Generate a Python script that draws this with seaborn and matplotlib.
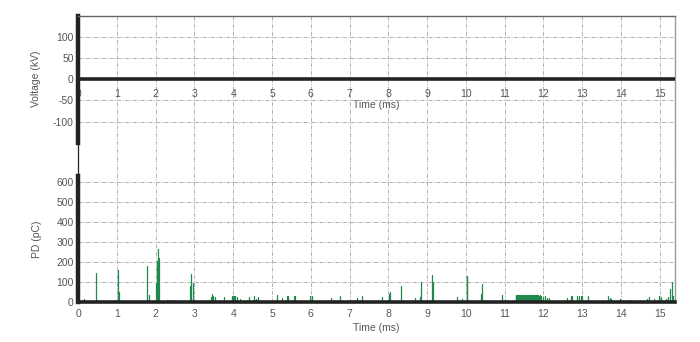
import numpy as np
import pandas as pd
import matplotlib
matplotlib.use("Agg")
import matplotlib.pyplot as plt
import seaborn as sns

# ---------------- data ----------------
volt_time = [0.0, 2.0, 4.0, 6.0, 8.0, 10.0, 12.0, 14.0, 15.39]
volt_kv = [0, 0, 0, 0, 0, 0, 0, 0, 0]

pd_time = [0.15, 0.46, 0.48, 1.03, 1.05, 1.77, 1.83, 2.01, 2.03, 2.05, 2.07, 2.09,
           2.30, 2.38, 2.89, 2.91, 2.97, 3.43, 3.45, 3.47, 3.53, 3.76, 3.97, 3.99,
           4.01, 4.03, 4.05, 4.10, 4.18, 4.42, 4.54, 4.58, 4.64, 5.12, 5.27, 5.38,
           5.42, 5.56, 5.59, 5.99, 6.02, 6.52, 6.75, 7.18, 7.33, 7.84, 8.02, 8.04,
           8.32, 8.70, 8.82, 8.84, 9.13, 9.15, 9.76, 9.91, 10.02, 10.04, 10.38, 10.42,
           10.94,
           11.28, 11.30, 11.32, 11.34, 11.36, 11.38, 11.40, 11.42, 11.44, 11.46, 11.48,
           11.50, 11.52, 11.54, 11.56, 11.58, 11.60, 11.62, 11.64, 11.66, 11.68, 11.70,
           11.72, 11.74, 11.76, 11.78, 11.80, 11.82, 11.84, 11.86, 11.88, 11.90, 11.92,
           11.94,
           11.98, 12.03, 12.08, 12.15, 12.61, 12.70, 12.74, 12.87, 12.91, 12.96, 12.99,
           13.16, 13.67, 13.71, 13.75, 13.97, 14.23, 14.66, 14.72, 14.86, 14.98, 15.02,
           15.15, 15.21, 15.25, 15.30, 15.33]
pd_pc = [17, 147, 10, 158, 50, 180, 33, 97, 205, 172, 263, 222,
         10, 12, 80, 138, 97, 25, 40, 30, 25, 25, 30, 32,
         30, 28, 30, 25, 15, 25, 30, 15, 25, 35, 20, 30,
         30, 30, 28, 30, 28, 22, 30, 20, 30, 25, 40, 52,
         80, 20, 25, 100, 135, 100, 25, 15, 128, 118, 40, 92,
         35,
         34, 36, 35, 37, 33, 36, 35, 34, 36, 28, 35,
         37, 36, 35, 34, 36, 35, 37, 36, 34, 35, 36,
         35, 37, 36, 34, 35, 33, 36, 35, 30, 34, 32,
         30,
         25, 28, 18, 20, 20, 30, 30, 30, 30, 28, 30,
         30, 30, 20, 15, 15, 10, 15, 25, 15, 30, 25,
         15, 25, 65, 100, 30]

volt_ticks = [-100, -50, 0, 50, 100]
pd_ticks = [0, 100, 200, 300, 400, 500, 600]
time_ticks = list(range(0, 16))

# ---------------- build tables ----------------
volt_df = pd.DataFrame({"t": volt_time, "v": volt_kv})
rows = []
for i, (t, h) in enumerate(zip(pd_time, pd_pc)):
    rows.append({"t": t, "pd": 0, "id": i})
    rows.append({"t": t, "pd": h, "id": i})
pd_df = pd.DataFrame(rows)

# ---------------- style ----------------
sns.set_style("white")
plt.rcParams["font.family"] = ["Liberation Sans", "DejaVu Sans"]
plt.rcParams["axes.unicode_minus"] = False
txt = "#555555"
grid_kw = dict(color="#b0b0b0", linewidth=0.7, linestyle=(0, (4, 1.5, 1, 1.5)))
fs = 7.5

fig = plt.figure(figsize=(7.0, 3.42), dpi=100)
L, R = 78 / 700, 675 / 700
ax1 = fig.add_axes([L, 1 - 160 / 342, R - L, (160 - 16) / 342])
ax2 = fig.add_axes([L, 1 - 302 / 342, R - L, (302 - 160) / 342])

# ---------------- voltage ----------------
sns.lineplot(data=volt_df, x="t", y="v", ax=ax1, color="#222222", linewidth=2.6,
             estimator=None, zorder=5)
ax1.set_xlim(0, 15.39)
ax1.set_ylim(-191, 150)
ax1.set_yticks(volt_ticks)
ax1.set_xticks(time_ticks)
ax1.grid(True, **grid_kw)
ax1.spines["bottom"].set_position(("data", 0))
ax1.spines["bottom"].set_color("none")
ax1.spines["top"].set_color("#666666")
ax1.spines["top"].set_linewidth(1.0)
ax1.spines["right"].set_color("#999999")
ax1.spines["right"].set_linewidth(1.0)
ax1.spines["left"].set_bounds(-150, 150)
ax1.spines["left"].set_linewidth(3.2)
ax1.spines["left"].set_color("#222222")
ax1.axvline(0, color="#222222", linewidth=0.9, clip_on=False, zorder=1)
ax1.tick_params(axis="both", length=0, labelsize=fs, colors=txt)
ax1.tick_params(axis="x", pad=7)
ax1.tick_params(axis="y", pad=3)
ax1.set_xlabel("Time (ms)", fontsize=fs, color=txt, labelpad=1)
ax1.set_ylabel("Voltage (kV)", fontsize=fs, color=txt)
ax1.yaxis.set_label_coords(-0.062, 0.5625)

# ---------------- PD ----------------
sns.lineplot(data=pd_df, x="t", y="pd", units="id", estimator=None, sort=False,
             ax=ax2, color="#1f8a4c", linewidth=0.9, zorder=3)
ax2.set_xlim(0, 15.39)
ax2.set_ylim(0, 710)
ax2.set_yticks(pd_ticks)
ax2.set_xticks(time_ticks)
ax2.grid(True, **grid_kw)
ax2.spines["top"].set_color("none")
ax2.spines["right"].set_color("#999999")
ax2.spines["right"].set_linewidth(1.0)
ax2.spines["bottom"].set_color("#222222")
ax2.spines["bottom"].set_linewidth(2.6)
ax2.spines["bottom"].set_zorder(6)
ax2.spines["left"].set_bounds(0, 630)
ax2.spines["left"].set_linewidth(3.2)
ax2.spines["left"].set_color("#222222")
ax2.axvline(0, color="#222222", linewidth=0.9, clip_on=False, zorder=1)
ax2.tick_params(axis="both", length=0, labelsize=fs, colors=txt)
ax2.tick_params(axis="x", pad=5)
ax2.tick_params(axis="y", pad=3)
ax2.set_xlabel("Time (ms)", fontsize=fs, color=txt, labelpad=3)
ax2.set_ylabel("PD (pC)", fontsize=fs, color=txt)
ax2.yaxis.set_label_coords(-0.060, 0.444)
ax2.set_xticklabels([str(t) for t in time_ticks])

fig.savefig("out.png", dpi=100, facecolor="white")
